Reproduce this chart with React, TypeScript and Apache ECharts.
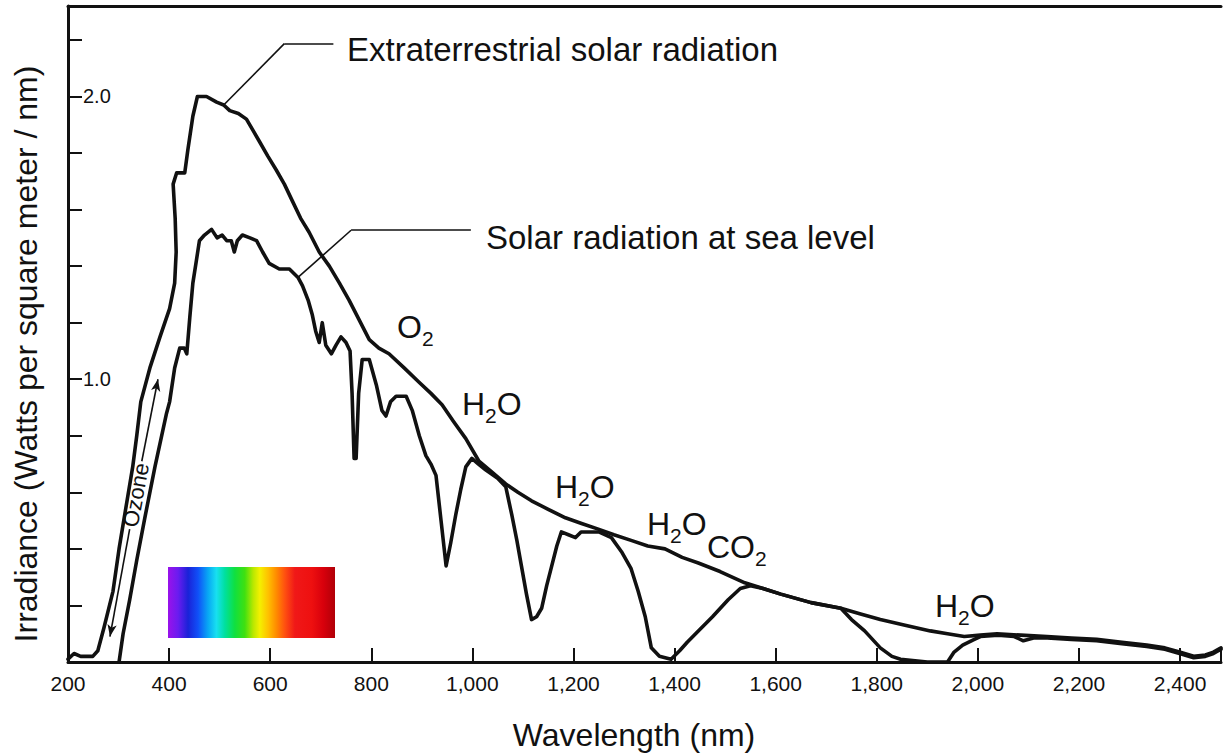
import React, { useEffect, useRef } from "react";
import * as echarts from "echarts";

// Extraterrestrial solar radiation (wavelength nm, irradiance W/m²/nm)
const EXTRA_NM = [200, 212, 225, 249, 259, 271, 289, 301, 314, 328, 336, 344, 362, 382, 401, 411, 414, 412, 408, 415, 431, 437, 447, 456, 474, 494, 508, 520, 537, 553, 566, 579, 595, 612, 628, 644, 660, 677, 697, 717, 737, 756, 776, 796, 815, 835, 865, 894, 918, 940, 963, 987, 1013, 1040, 1066, 1090, 1117, 1150, 1184, 1216, 1249, 1280, 1314, 1347, 1381, 1415, 1447, 1490, 1539, 1575, 1610, 1670, 1729, 1768, 1807, 1856, 1906, 1940, 1973, 2005, 2038, 2085, 2137, 2185, 2235, 2285, 2334, 2370, 2399, 2427, 2450, 2466, 2481];
const EXTRA_VAL = [0.01, 0.03, 0.02, 0.02, 0.04, 0.12, 0.25, 0.4, 0.54, 0.69, 0.8, 0.92, 1.04, 1.15, 1.25, 1.34, 1.45, 1.57, 1.69, 1.73, 1.73, 1.81, 1.93, 2.0, 2.0, 1.98, 1.97, 1.95, 1.94, 1.92, 1.88, 1.84, 1.79, 1.74, 1.69, 1.63, 1.57, 1.52, 1.45, 1.4, 1.34, 1.28, 1.21, 1.14, 1.11, 1.09, 1.04, 0.99, 0.95, 0.91, 0.85, 0.79, 0.71, 0.67, 0.63, 0.6, 0.57, 0.54, 0.51, 0.49, 0.47, 0.45, 0.43, 0.41, 0.4, 0.37, 0.35, 0.32, 0.28, 0.26, 0.24, 0.21, 0.19, 0.17, 0.15, 0.13, 0.11, 0.1, 0.09, 0.095, 0.1, 0.095, 0.09, 0.085, 0.08, 0.07, 0.06, 0.05, 0.035, 0.02, 0.025, 0.035, 0.05];

// Solar radiation at sea level
const SEA_NM = [301, 309, 322, 336, 352, 372, 395, 401, 411, 421, 430, 435, 441, 447, 454, 460, 470, 484, 495, 505, 514, 523, 529, 535, 545, 560, 573, 585, 598, 618, 638, 655, 664, 675, 683, 690, 697, 703, 710, 721, 730, 740, 750, 758, 762, 766, 770, 775, 782, 796, 810, 821, 829, 838, 849, 869, 881, 895, 908, 918, 928, 938, 948, 957, 967, 977, 987, 999, 1012, 1026, 1050, 1066, 1078, 1088, 1097, 1107, 1117, 1127, 1137, 1147, 1157, 1167, 1176, 1190, 1204, 1215, 1230, 1250, 1275, 1295, 1314, 1328, 1342, 1354, 1370, 1393, 1410, 1425, 1447, 1475, 1506, 1530, 1550, 1575, 1610, 1670, 1729, 1750, 1776, 1807, 1830, 1847, 1900, 1940, 1953, 1970, 1993, 2005, 2040, 2072, 2090, 2110, 2137, 2185, 2235, 2285, 2334, 2370, 2399, 2427, 2450, 2466, 2481];
const SEA_VAL = [0.0, 0.1, 0.22, 0.36, 0.51, 0.69, 0.88, 0.92, 1.04, 1.11, 1.11, 1.09, 1.22, 1.34, 1.42, 1.49, 1.51, 1.53, 1.5, 1.51, 1.49, 1.49, 1.45, 1.49, 1.51, 1.5, 1.49, 1.45, 1.41, 1.39, 1.39, 1.36, 1.33, 1.28, 1.23, 1.17, 1.13, 1.2, 1.12, 1.09, 1.12, 1.15, 1.13, 1.1, 0.95, 0.72, 0.72, 0.95, 1.07, 1.07, 0.98, 0.89, 0.87, 0.92, 0.94, 0.94, 0.89, 0.8, 0.73, 0.7, 0.66, 0.5, 0.34, 0.42, 0.52, 0.61, 0.69, 0.72, 0.7, 0.68, 0.65, 0.62, 0.52, 0.43, 0.34, 0.24, 0.15, 0.16, 0.19, 0.27, 0.34, 0.41, 0.46, 0.45, 0.44, 0.46, 0.46, 0.46, 0.44, 0.39, 0.33, 0.25, 0.16, 0.05, 0.02, 0.01, 0.04, 0.07, 0.11, 0.16, 0.22, 0.26, 0.27, 0.26, 0.24, 0.21, 0.19, 0.15, 0.11, 0.05, 0.02, 0.01, 0.0, 0.0, 0.035, 0.06, 0.08, 0.09, 0.095, 0.09, 0.075, 0.085, 0.085, 0.08, 0.075, 0.065, 0.055, 0.045, 0.03, 0.015, 0.02, 0.03, 0.045];

const Y_LABELS = ["1.0", "2.0"];

// Absorption band labels: main text, subscript, tail
const BANDS = [
  { a: "O", s: "2", b: "", x: 397, y: 327 },
  { a: "H", s: "2", b: "O", x: 462, y: 404 },
  { a: "H", s: "2", b: "O", x: 555, y: 487 },
  { a: "H", s: "2", b: "O", x: 647, y: 524 },
  { a: "CO", s: "2", b: "", x: 707, y: 547 },
  { a: "H", s: "2", b: "O", x: 935, y: 606 },
];

const FONT = "'Liberation Sans', Arial, Helvetica, sans-serif";
const INK = "#111111";

export default function App() {
  const ref = useRef<HTMLDivElement>(null);

  useEffect(() => {
    if (!ref.current) return;
    const chart = echarts.init(ref.current, undefined, { renderer: "svg" });

    const extra = EXTRA_NM.map((x, i) => [x, EXTRA_VAL[i]]);
    const sea = SEA_NM.map((x, i) => [x, SEA_VAL[i]]);

    const segStyle = { color: INK, width: 1.6, type: "solid" as const };

    const bandTexts = BANDS.map((b) => ({
      type: "text",
      x: b.x,
      y: b.y,
      silent: true,
      style: {
        text: `{m|${b.a}}{s|${b.s}}` + (b.b ? `{m|${b.b}}` : ""),
        fill: INK,
        textAlign: "left",
        textVerticalAlign: "middle",
        rich: {
          m: { fontSize: 32, fontFamily: FONT, fill: INK },
          s: { fontSize: 21, fontFamily: FONT, fill: INK, padding: [22, 0, 0, 0] },
        },
      },
    }));

    chart.setOption({
      animation: false,
      backgroundColor: "#ffffff",
      grid: { left: 68, right: 0, top: 6, bottom: 92, containLabel: false },
      xAxis: [
        {
          type: "value",
          position: "bottom",
          min: 200,
          max: 2481,
          interval: 200,
          axisLine: { show: true, lineStyle: { color: INK, width: 3 } },
          axisTick: { show: true, inside: true, length: 14, lineStyle: { color: INK, width: 2 } },
          splitLine: { show: false },
          axisLabel: {
            show: true,
            margin: 11,
            fontSize: 21,
            fontFamily: FONT,
            color: INK,
            formatter: (v: number) => {
              if (v % 200 !== 0) return "";
              return v >= 1000 ? `${Math.floor(v / 1000)},${String(v % 1000).padStart(3, "0")}` : String(v);
            },
          },
        },
        {
          type: "value",
          position: "top",
          min: 200,
          max: 2481,
          axisLine: { show: true, lineStyle: { color: INK, width: 3 } },
          axisTick: { show: false },
          axisLabel: { show: false },
          splitLine: { show: false },
        },
      ],
      yAxis: {
        type: "value",
        min: 0,
        max: 2.32,
        interval: 0.2,
        axisLine: { show: true, lineStyle: { color: INK, width: 3 } },
        axisTick: { show: true, inside: true, length: 14, lineStyle: { color: INK, width: 2 } },
        splitLine: { show: false },
        axisLabel: {
          inside: true,
          margin: 15,
          fontSize: 20,
          fontFamily: FONT,
          color: INK,
          formatter: (v: number) => {
            const s = v.toFixed(1);
            return Math.abs(v - Math.round(v)) < 1e-6 && Y_LABELS.includes(s) ? s : "";
          },
        },
      },
      series: [
        {
          name: "Extraterrestrial solar radiation",
          type: "line",
          data: extra,
          showSymbol: false,
          symbol: "none",
          silent: true,
          lineStyle: { color: INK, width: 3.6, join: "round", cap: "round" },
          markLine: {
            silent: true,
            symbol: ["none", "none"],
            label: { show: false },
            lineStyle: segStyle,
            data: [
              [{ coord: [508, 1.97] }, { coord: [628, 2.187] }],
              [{ coord: [628, 2.187] }, { coord: [725, 2.187] }],
              // Ozone arrow (two parts around its label)
              [{ coord: [346, 0.71] }, { coord: [378, 1.0], symbol: "arrow", symbolSize: [7, 12] }],
              [{ coord: [322, 0.47] }, { coord: [283, 0.09], symbol: "arrow", symbolSize: [7, 12] }],
            ],
          },
        },
        {
          name: "Solar radiation at sea level",
          type: "line",
          data: sea,
          showSymbol: false,
          symbol: "none",
          silent: true,
          lineStyle: { color: INK, width: 3.6, join: "round", cap: "round" },
          markLine: {
            silent: true,
            symbol: ["none", "none"],
            label: { show: false },
            lineStyle: segStyle,
            data: [
              [{ coord: [655, 1.36] }, { coord: [760, 1.527] }],
              [{ coord: [760, 1.527] }, { coord: [997, 1.527] }],
            ],
          },
        },
      ],
      graphic: [
        {
          type: "rect",
          silent: true,
          shape: { x: 168, y: 567, width: 167, height: 71 },
          style: {
            fill: new echarts.graphic.LinearGradient(0, 0, 1, 0, [
              { offset: 0, color: "#9a12ea" },
              { offset: 0.06, color: "#6a1cf0" },
              { offset: 0.12, color: "#1a22d8" },
              { offset: 0.18, color: "#1050f8" },
              { offset: 0.24, color: "#08a8f4" },
              { offset: 0.29, color: "#18e0f0" },
              { offset: 0.34, color: "#00e0a0" },
              { offset: 0.4, color: "#10e040" },
              { offset: 0.46, color: "#40e010" },
              { offset: 0.51, color: "#b8e800" },
              { offset: 0.55, color: "#f4f000" },
              { offset: 0.6, color: "#ffc000" },
              { offset: 0.65, color: "#ff8a00" },
              { offset: 0.7, color: "#ff5010" },
              { offset: 0.76, color: "#f01818" },
              { offset: 0.86, color: "#ee1010" },
              { offset: 0.93, color: "#d8000c" },
              { offset: 1, color: "#b00008" },
            ]),
          },
        },
        {
          type: "text",
          x: 347,
          y: 49,
          silent: true,
          style: {
            text: "Extraterrestrial solar radiation",
            fill: INK,
            font: `33px ${FONT}`,
            textAlign: "left",
            textVerticalAlign: "middle",
          },
        },
        {
          type: "text",
          x: 486,
          y: 237,
          silent: true,
          style: {
            text: "Solar radiation at sea level",
            fill: INK,
            font: `33px ${FONT}`,
            textAlign: "left",
            textVerticalAlign: "middle",
          },
        },
        {
          type: "text",
          x: 136,
          y: 495,
          rotation: 1.39,
          silent: true,
          style: {
            text: "Ozone",
            fill: INK,
            font: `22px ${FONT}`,
            textAlign: "center",
            textVerticalAlign: "middle",
          },
        },
        ...bandTexts,
        {
          type: "text",
          x: 634,
          y: 735,
          silent: true,
          style: {
            text: "Wavelength (nm)",
            fill: INK,
            font: `32px ${FONT}`,
            textAlign: "center",
            textVerticalAlign: "middle",
          },
        },
        {
          type: "text",
          x: 26,
          y: 354,
          rotation: Math.PI / 2,
          silent: true,
          style: {
            text: "Irradiance (Watts per square meter / nm)",
            fill: INK,
            font: `32px ${FONT}`,
            textAlign: "center",
            textVerticalAlign: "middle",
          },
        },
      ],
    });

    return () => chart.dispose();
  }, []);

  return (
    <div
      ref={ref}
      style={{ position: "fixed", left: 0, top: 0, width: 1224, height: 754, background: "#fff" }}
    />
  );
}
